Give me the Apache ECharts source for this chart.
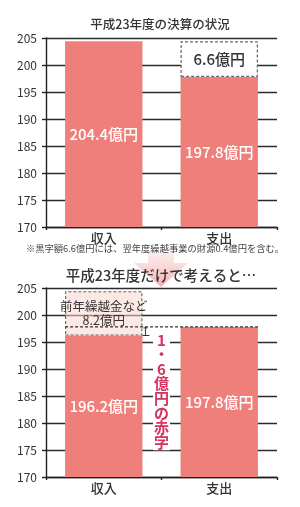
<!DOCTYPE html>
<html><head><meta charset="utf-8">
<script src="https://cdn.jsdelivr.net/npm/echarts@6.0.0/dist/echarts.min.js"></script>
<style>html,body{margin:0;padding:0;background:#fff}#c{width:300px;height:507px}</style>
</head><body><div id="c"></div>
<script>
const categories = ['収入', '支出'];
const yMin = 170, yMax = 205, yStep = 5;
const topBars = [204.4, 197.8];
const topSurplus = [null, 6.6];
const bottomBars = [196.2, 197.8];
const bottomCarryover = [8.2, null];
const deficit = 1.6;
const titles = ['平成23年度の決算の状況', '平成23年度だけで考えると…'];
const footnote = '※黒字額6.6億円には、翌年度繰越事業の財源0.4億円を含む。';
const carryLabel = '前年繰越金など';

const BAR = '#ef7f7b';
const FONT = '"Noto Sans CJK JP", "Noto Sans", sans-serif';
const chart = echarts.init(document.getElementById('c'), null, {renderer: 'canvas'});

function xAxisFor(i) {
  return {
    type: 'category', gridIndex: i, data: categories,
    axisLine: {lineStyle: {color: '#222', width: 1.4}},
    axisTick: {show: true, length: 3, lineStyle: {color: '#222', width: 1.4}},
    axisLabel: {color: '#333', fontSize: 13, margin: 5, fontFamily: FONT, fontWeight: 500}
  };
}
function yAxisFor(i) {
  return {
    type: 'value', gridIndex: i, min: yMin, max: yMax, interval: yStep,
    axisLine: {show: true, lineStyle: {color: '#222', width: 1.4}},
    axisTick: {show: true, length: 4, lineStyle: {color: '#222', width: 1.4}},
    splitLine: {lineStyle: {color: '#2a2a2a', width: 1.4}},
    axisLabel: {color: '#333', fontSize: 12, margin: 9, fontFamily: FONT}
  };
}
const inLabel = {
  show: true, position: 'inside', color: '#fff', fontSize: 15, fontFamily: FONT, fontWeight: 500,
  formatter: p => p.value + '億円'
};
const deficitText = (String(deficit).replace('.', '・') + '億円の赤字').split('').join('\n');

chart.setOption({
  animation: false,
  textStyle: {fontFamily: FONT},
  title: [
    {text: titles[0], left: 160, top: 18, textAlign: 'center', padding: 0,
     textStyle: {fontSize: 12.5, fontWeight: 500, color: '#333', fontFamily: FONT}},
    {text: footnote, left: 155, top: 244, textAlign: 'center', padding: 0,
     textStyle: {fontSize: 9.3, fontWeight: 'normal', color: '#444', fontFamily: FONT}},
    {text: titles[1], left: 161, top: 268, textAlign: 'center', padding: 0, z: 10,
     textStyle: {fontSize: 14.5, fontWeight: 500, color: '#333', fontFamily: FONT}}
  ],
  graphic: [{
    type: 'polygon', z: -1,
    shape: {points: [[148, 253], [174, 253], [174, 263], [188, 263], [161, 287], [134, 263], [148, 263]]},
    style: {fill: new echarts.graphic.LinearGradient(0, 0, 0, 1, [
      {offset: 0, color: 'rgba(247,200,198,0.35)'}, {offset: 1, color: 'rgba(240,150,150,0.75)'}])}
  }],
  grid: [
    {left: 46, top: 38, width: 231, height: 189},
    {left: 46, top: 288, width: 231, height: 189}
  ],
  xAxis: [xAxisFor(0), xAxisFor(1)],
  yAxis: [yAxisFor(0), yAxisFor(1)],
  series: [
    {type: 'bar', xAxisIndex: 0, yAxisIndex: 0, stack: 't', data: topBars, barWidth: '67%',
     itemStyle: {color: BAR}, label: inLabel},
    {type: 'bar', xAxisIndex: 0, yAxisIndex: 0, stack: 't', data: topSurplus, barWidth: '67%',
     itemStyle: {color: '#fff', borderColor: '#666', borderWidth: 1.2, borderType: [3, 2]},
     label: {show: true, position: 'inside', color: '#333', fontSize: 15, fontFamily: FONT, fontWeight: 500,
             formatter: p => p.value + '億円'}},
    {type: 'bar', xAxisIndex: 1, yAxisIndex: 1, stack: 'b', data: bottomBars, barWidth: '67%',
     itemStyle: {color: BAR}, label: inLabel},
    {type: 'bar', xAxisIndex: 1, yAxisIndex: 1, stack: 'b', data: bottomCarryover, barWidth: '67%',
     itemStyle: {color: 'rgba(249,214,208,0.55)', borderColor: '#666', borderWidth: 1.1, borderType: [3, 2]},
     label: {show: true, position: 'inside', color: '#333', fontSize: 12.5, lineHeight: 14, fontFamily: FONT,
             formatter: p => carryLabel + '\n' + p.value + '億円'}},
    {type: 'custom', xAxisIndex: 1, yAxisIndex: 1, z: 5, clip: false,
     data: [[0, bottomBars[1], bottomBars[0]]],
     renderItem: function (params, api) {
       const band = api.size([1, 0])[0];
       const half = band * 0.335;
       const p0 = api.coord([0, api.value(1)]);
       const p1 = api.coord([1, api.value(1)]);
       const pb = api.coord([0, api.value(2)]);
       const bx = p0[0] + half + 3;
       const midX = p0[0] + band / 2;
       const st = {stroke: '#333', lineWidth: 1};
       return {type: 'group', children: [
         {type: 'line', shape: {x1: p0[0] - half, y1: p0[1], x2: p1[0] + half, y2: p1[1]},
          style: {stroke: '#333', lineWidth: 1.3, lineDash: [3, 2]}},
         {type: 'line', shape: {x1: bx, y1: p0[1], x2: bx, y2: pb[1]}, style: st},
         {type: 'line', shape: {x1: bx - 3, y1: pb[1], x2: bx + 4, y2: pb[1]}, style: st},
         {type: 'line', shape: {x1: bx - 2, y1: p0[1] + 1, x2: bx + 2, y2: p0[1] + 1}, style: st},
         {type: 'text', x: midX, y: pb[1] - 4,
          style: {text: deficitText, fill: '#d2335f', fontSize: 15, fontWeight: 'bold',
                  lineHeight: 14.6, align: 'center', verticalAlign: 'top', fontFamily: FONT,
                  backgroundColor: '#fff', padding: [1, 1]}}
       ]};
     }}
  ]
});
</script></body></html>
